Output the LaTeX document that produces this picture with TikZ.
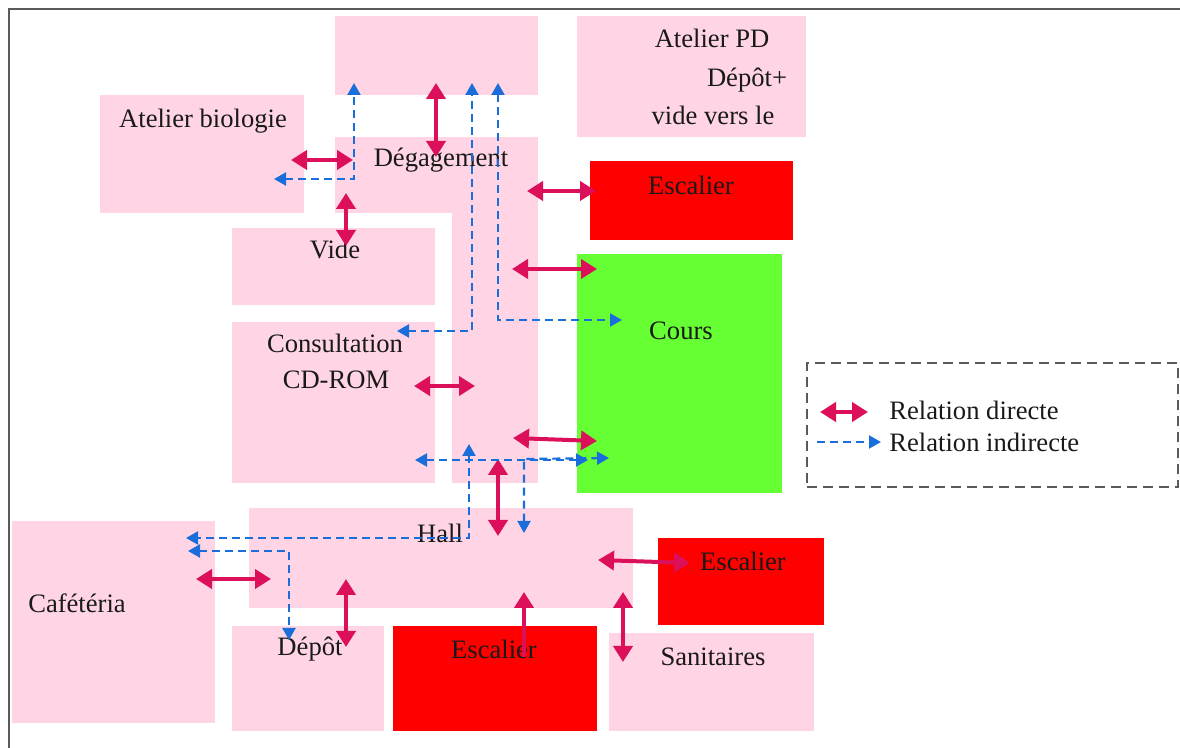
\documentclass[tikz,border=0pt]{standalone}
\usepackage{fontspec}
\setmainfont{Liberation Serif}
\usetikzlibrary{fit,arrows.meta}
\definecolor{roompink}{RGB}{255,213,229}
\definecolor{stairred}{RGB}{255,0,0}
\definecolor{yardgreen}{RGB}{102,255,51}
\definecolor{relred}{RGB}{220,16,90}
\definecolor{relblue}{RGB}{26,110,218}
\definecolor{framegray}{RGB}{90,90,90}
\definecolor{txt}{RGB}{25,25,25}
\begin{document}
\begin{tikzpicture}[x=0.5pt,y=-0.5pt,
  room/.style={inner sep=0pt, outer sep=0pt, fill=roompink, draw=none},
  stair/.style={room, fill=stairred},
  yard/.style={room, fill=yardgreen},
  lbl/.style={text=txt, inner sep=0pt, font=\fontsize{13.3}{16}\selectfont},
  direct/.style={draw=relred, line width=2pt, >={Triangle[length=8pt,width=9.5pt]}, <->},
  indirect/.style={draw=relblue, line width=1.1pt, dash pattern=on 4pt off 2.5pt, >={Triangle[length=6pt,width=6.5pt]}, <->},
  legendbox/.style={draw=framegray, line width=1.2pt, dash pattern=on 5pt off 3pt}
]
\useasboundingbox (0,0) rectangle (1180,748);
% page frame
\draw[framegray, line width=1.1pt] (9,748) -- (9,9) -- (1180,9);

% rooms
\node[room, fit={(335,16)(538,95)}] (top) {};
\node[room, fit={(577,16)(806,137)}] (atpd) {};
\node[room, fit={(100,95)(304,213)}] (bio) {};
\node[room, fit={(335,137)(538,213)}] (deg) {};
\node[room, fit={(452,137)(538,483)}] (corr) {};
\node[stair, fit={(590,161)(793,240)}] (esc1) {};
\node[yard, fit={(577,254)(782,493)}] (cours) {};
\node[room, fit={(232,228)(435,305)}] (vide) {};
\node[room, fit={(232,322)(435,483)}] (cdrom) {};
\node[room, fit={(249,508)(633,608)}] (hall) {};
\node[room, fit={(12,521)(215,723)}] (caf) {};
\node[room, fit={(232,626)(384,731)}] (depot) {};
\node[stair, fit={(393,626)(597,731)}] (esc3) {};
\node[stair, fit={(658,538)(824,625)}] (esc2) {};
\node[room, fit={(609,633)(814,731)}] (sani) {};
\node[legendbox, inner sep=0pt, fit={(807,363)(1178,487)}] (legend) {};

% labels
\node[lbl] (tbio) at (203,121) {Atelier biologie};
\node[lbl] (tdeg) at (441,160) {Dégagement};
\node[lbl] (tatpd) at (712,38) {Atelier PD};
\node[lbl] (tdep) at (747,80) {Dépôt+};
\node[lbl] (tvide) at (713,115) {vide vers le};
\node[lbl] (tesc1) at (691,185) {Escalier};
\node[lbl] (tvid) at (335,249) {Vide};
\node[lbl] (tcours) at (681,331) {Cours};
\node[lbl] (tcons) at (335,343) {Consultation};
\node[lbl] (tcd) at (336,380) {CD-ROM};
\node[lbl] (thall) at (440,533) {Hall};
\node[lbl] (tcaf) at (77,603) {Cafétéria};
\node[lbl] (tdepot) at (310,649) {Dépôt};
\node[lbl] (tesc3) at (494,649) {Escalier};
\node[lbl] (tesc2) at (743,561) {Escalier};
\node[lbl] (tsani) at (713,657) {Sanitaires};
\node[lbl, anchor=west] (tdir) at (889,410) {Relation directe};
\node[lbl, anchor=west] (tind) at (889,442) {Relation indirecte};

% connector end points
\coordinate (r1a) at (291,160); \coordinate (r1b) at (353,160);
\coordinate (r2a) at (436,83);  \coordinate (r2b) at (436,157);
\coordinate (r3a) at (346,193); \coordinate (r3b) at (346,246);
\coordinate (r4a) at (527,191); \coordinate (r4b) at (596,191);
\coordinate (r5a) at (512,269); \coordinate (r5b) at (597,269);
\coordinate (r6a) at (414,386); \coordinate (r6b) at (475,386);
\coordinate (r7a) at (513,438); \coordinate (r7b) at (597,441);
\coordinate (r8a) at (498,459); \coordinate (r8b) at (498,536);
\coordinate (r9a) at (196,579); \coordinate (r9b) at (271,579);
\coordinate (r10a) at (346,579); \coordinate (r10b) at (346,647);
\coordinate (r11a) at (524,657); \coordinate (r11b) at (524,592);
\coordinate (r12a) at (598,560); \coordinate (r12b) at (690,563);
\coordinate (r13a) at (623,592); \coordinate (r13b) at (623,662);
\coordinate (lda) at (820,412); \coordinate (ldb) at (868,412);

% direct relations
\draw[direct] (r1a) -- (r1b);
\draw[direct] (r2a) -- (r2b);
\draw[direct] (r3a) -- (r3b);
\draw[direct] (r4a) -- (r4b);
\draw[direct] (r5a) -- (r5b);
\draw[direct] (r6a) -- (r6b);
\draw[direct] (r7a) -- (r7b);
\draw[direct] (r8a) -- (r8b);
\draw[direct] (r9a) -- (r9b);
\draw[direct] (r10a) -- (r10b);
\draw[direct, ->] (r11a) -- (r11b);
\draw[direct] (r12a) -- (r12b);
\draw[direct] (r13a) -- (r13b);
\draw[direct] (lda) -- (ldb);

% indirect relations
\coordinate (b1a) at (274,179); \coordinate (b1b) at (354,83);
\coordinate (b2a) at (397,331); \coordinate (b2b) at (472,83);
\coordinate (b3a) at (498,83);  \coordinate (b3b) at (622,320);
\coordinate (b4a) at (415,460); \coordinate (b4b) at (588,460);
\coordinate (b5a) at (524,533); \coordinate (b5b) at (609,458);
\coordinate (b6a) at (469,444); \coordinate (b6b) at (186,538);
\coordinate (b7a) at (188,551); \coordinate (b7b) at (289,640);
\coordinate (lia) at (817,442); \coordinate (lib) at (881,442);

\draw[indirect] (b1a) -| (b1b);
\draw[indirect] (b2a) -| (b2b);
\draw[indirect] (b3a) |- (b3b);
\draw[indirect] (b4a) -- (b4b);
\draw[indirect] (b5a) -- (524,459) -- (b5b);
\draw[indirect] (b6a) |- (b6b);
\draw[indirect] (b7a) -| (b7b);
\draw[indirect, ->] (lia) -- (lib);
\end{tikzpicture}
\end{document}
